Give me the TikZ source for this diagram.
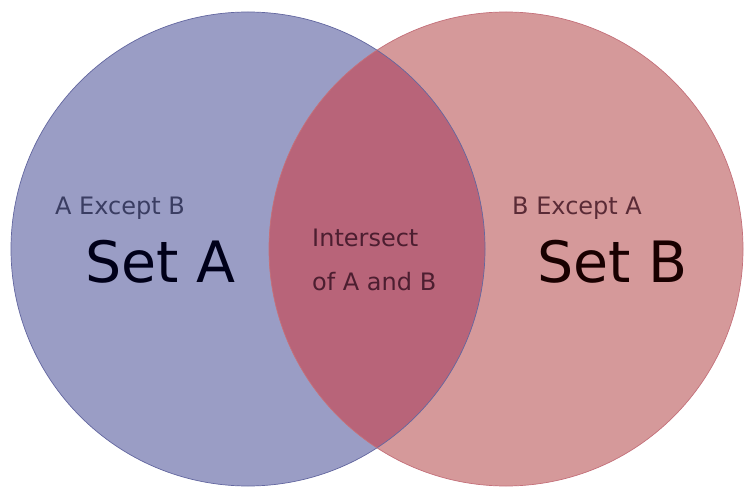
\documentclass[tikz,border=0pt]{standalone}
\usepackage{fontspec}
\setmainfont{DejaVu Sans}
\usepackage{tikz}
\usetikzlibrary{positioning}
\definecolor{afill}{HTML}{9A9DC5}
\definecolor{aline}{HTML}{6367A0}
\definecolor{bfill}{HTML}{D5999A}
\definecolor{bline}{HTML}{C4707A}
\definecolor{abfill}{HTML}{B86479}
\definecolor{atext}{HTML}{3A3D62}
\definecolor{btext}{HTML}{5A2B36}
\definecolor{abtext}{HTML}{4C1E30}

\begin{document}
\begin{tikzpicture}[x=1pt,y=1pt,
  setcircle/.style={circle,minimum size=474pt,inner sep=0pt},
  small/.style={font=\fontsize{24}{28}\selectfont,inner sep=0pt,anchor=base west},
  big/.style={font=\fontsize{57}{64}\selectfont,inner sep=0pt,anchor=base west}]
  \useasboundingbox[fill=white] (0,0) rectangle (747,496);
  \node[setcircle,fill=afill] (A) at (248,247) {};
  \node[setcircle,fill=bfill] (B) at (506,247) {};
  % overlap of the two sets
  \begin{scope}
    \clip (A.center) circle (237);
    \fill[abfill] (B.center) circle (237);
  \end{scope}
  \draw[aline,line width=0.7pt] (A.center) circle (237);
  \draw[bline,line width=0.7pt] (B.center) circle (237);

  \node[small,text=atext] (aexb) at (55,281) {A Except B};
  \node[big,text=black!90!blue] (seta) at (85,214) {Set A};
  \node[small,text=abtext] (inter) at (312,249) {Intersect};
  \node[small,text=abtext] (ofab) at (312,206) {of A and B};
  \node[small,text=btext] (bexa) at (512,281) {B Except A};
  \node[big,text=black!90!red] (setb) at (537,214) {Set B};
\end{tikzpicture}
\end{document}
